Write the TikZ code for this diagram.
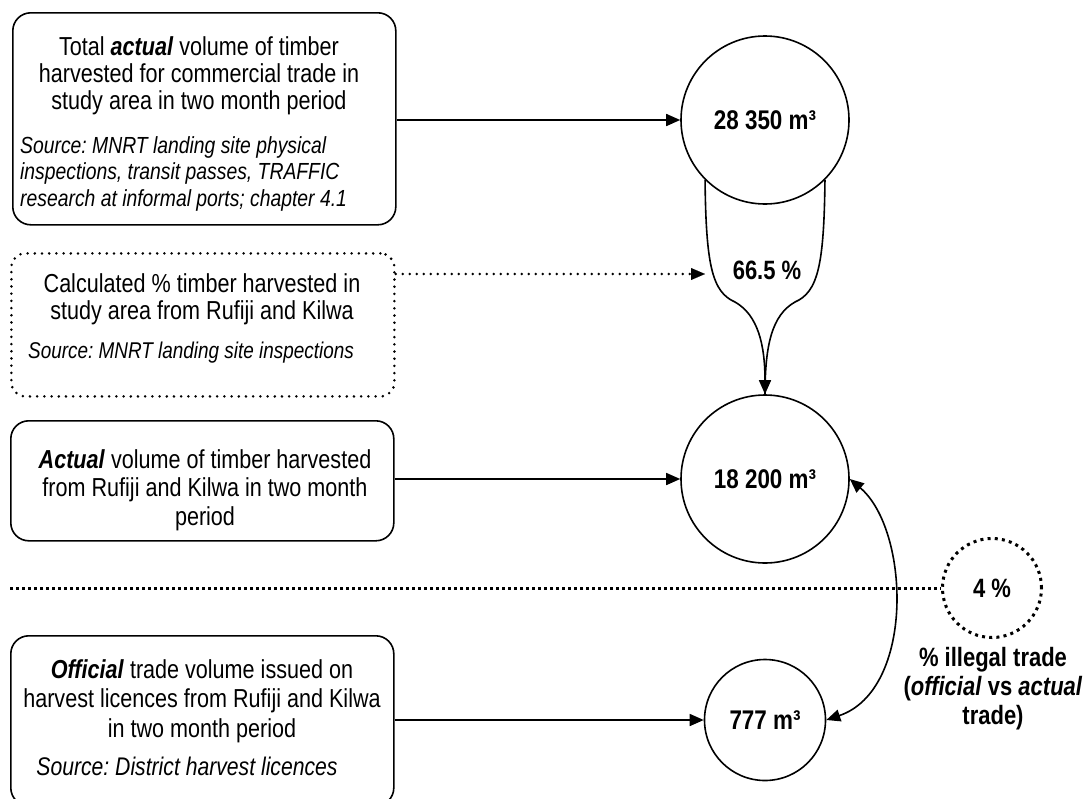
\documentclass[tikz,border=0pt]{standalone}
\usepackage{fontspec}
\setmainfont{Liberation Sans}[FakeStretch=0.83]
\frenchspacing
\usetikzlibrary{arrows.meta,shapes.geometric}
\begin{document}
\begin{tikzpicture}[x=1pt,y=-1pt,
  every node/.style={inner sep=0pt},
  box/.style={draw, line width=1.6pt, rounded corners=18pt, anchor=north west, minimum width=383pt},
  dotbox/.style={draw, line width=2.8pt, dash pattern=on 0pt off 7.2pt, line cap=round, rounded corners=14pt, anchor=north west, minimum width=383pt},
  vol/.style={circle, draw, line width=1.6pt, font=\fontsize{27}{30}\selectfont\bfseries},
  conn/.style={line width=1.6pt, -{Triangle[length=14pt,width=12pt]}},
  main/.style={align=center, font=\fontsize{26}{27}\selectfont},
  src/.style={font=\fontsize{23.3}{26.5}\selectfont\itshape},
  dotconn/.style={line width=2.8pt, dash pattern=on 0pt off 7pt, line cap=round},
  bold/.style={font=\fontsize{26.5}{29}\selectfont\bfseries, align=center},
]
\useasboundingbox[fill=white] (0,0) rectangle (1083,798);

% boxes
\node[box, minimum height=212pt] (box1) at (12,12) {};
\node[dotbox, minimum height=143pt] (box2) at (10,252) {};
\node[box, minimum height=120pt] (box3) at (10,420) {};
\node[box, minimum height=170pt] (box4) at (10,635) {};

% box texts
\node[main, anchor=north] (t1) at (199,36) {Total \textbf{\textit{actual}} volume of timber\\harvested for commercial trade in\\study area in two month period};
\begin{scope}
\clip (0,0) rectangle (400,210);
\node[src, align=left, anchor=north west] (t1s) at (20,136) {Source: MNRT landing site physical\\inspections, transit passes, TRAFFIC\\research at informal ports; chapter 4.1};
\end{scope}
\node[main, anchor=north] (t2) at (202,273) {Calculated \% timber harvested in\\study area from Rufiji and Kilwa};
\node[src, font=\fontsize{22.8}{26}\selectfont\itshape, anchor=base] (t2s) at (191,358) {Source: MNRT landing site inspections};
\node[main, anchor=north, font=\fontsize{26}{28.5}\selectfont] (t3) at (205,449) {\textbf{\textit{Actual}} volume of timber harvested\\from Rufiji and Kilwa in two month\\period};
\node[main, anchor=north, font=\fontsize{26}{29.5}\selectfont] (t4) at (202,659) {\textbf{\textit{Official}} trade volume issued on\\harvest licences from Rufiji and Kilwa\\in two month period};
\node[font=\fontsize{25.5}{28}\selectfont\itshape, anchor=base] (t4s) at (187,775) {Source: District harvest licences};

% circles
\node[vol, minimum size=168pt] (c1) at (765,120) {28 350 m³};
\node[vol, minimum size=168pt] (c2) at (765,479) {18 200 m³};
\node[vol, minimum size=121pt] (c3) at (765,720) {777 m³};
\node[circle, draw, line width=3pt, dash pattern=on 3pt off 4.2pt, minimum size=99pt, font=\fontsize{26.5}{29}\selectfont\bfseries] (pc) at (992,588) {4 \%};
\node[bold, anchor=north] (lbl) at (993,647) {\% illegal trade\\(\textit{official} vs \textit{actual}\\trade)};

% funnel
\node[font=\fontsize{26.5}{29}\selectfont\bfseries] (pct) at (767,270) {66.5 \%};
\draw[line width=1.6pt] (c1.315) .. controls (824,265) and (818,292) .. (795,302) .. controls (772,315) and (765,345) .. (c2.north);
\draw[conn] (c1.225) .. controls (706,265) and (712,292) .. (735,302) .. controls (758,315) and (765,345) .. (c2.north);

% connectors
\draw[conn] (box1.east |- c1.center) -- (c1);
\draw[conn] (box3.east |- c2.center) -- (c2);
\draw[conn] (box4.east |- c3.center) -- (c3);

\coordinate (fun) at (705,274);
\draw[dotconn] (box2.east |- fun) -- ([xshift=-14pt]fun);
\draw[-{Triangle[length=14pt,width=12pt]}, line width=0.1pt] ([xshift=-14.5pt]fun) -- (fun);

\coordinate (hl) at (10,588);
\draw[line width=3pt, dash pattern=on 3pt off 3pt] (hl) -- (pc.west);

\draw[line width=1.6pt, {Triangle[length=14pt,width=12pt]}-{Triangle[length=14pt,width=12pt]}] (c2.east) .. controls (910,530) and (915,690) .. (c3.east);
\end{tikzpicture}
\end{document}
